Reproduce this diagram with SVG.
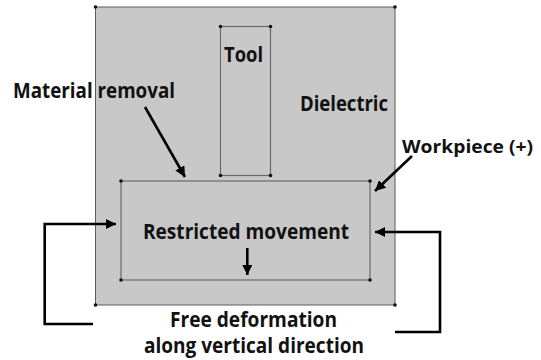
<svg xmlns="http://www.w3.org/2000/svg" width="541" height="360" viewBox="0 0 541 360">
  <defs>
    <marker id="head" viewBox="0 0 10 10" refX="10" refY="5" markerWidth="4" markerHeight="4" orient="auto" markerUnits="strokeWidth">
      <path d="M0,0 L10,5 L0,10 Z" fill="#000"/>
    </marker>
    <circle id="dot" r="1.8" fill="#111"/>
  </defs>
  <style>
    .region { fill: #c8c8c8; stroke: #5a5a5a; stroke-width: 1; }
    .frame { fill: none; stroke: #6a6a6a; stroke-width: 1.2; }
    .label { font-family: "Open Sans", "Liberation Sans", sans-serif; font-weight: 700; font-size: 21px; fill: #111; }
    .small { font-size: 18px; }
    .conn { fill: none; stroke: #000; stroke-width: 2.6; stroke-linejoin: miter; }
  </style>
  <rect width="541" height="360" fill="#fff"/>

  <!-- dielectric domain -->
  <g id="dielectric">
    <rect class="region" x="95.5" y="7" width="299.5" height="298"/>
    <use href="#dot" x="95.5" y="7"/>
    <use href="#dot" x="395" y="7"/>
    <use href="#dot" x="95.5" y="305"/>
    <use href="#dot" x="395" y="305"/>
    <text class="label" x="300" y="111" textLength="88" lengthAdjust="spacingAndGlyphs">Dielectric</text>
  </g>

  <!-- tool electrode -->
  <g id="tool">
    <rect class="frame" x="220.5" y="26.5" width="50" height="149"/>
    <use href="#dot" x="220.5" y="26.5"/>
    <use href="#dot" x="270.5" y="26.5"/>
    <use href="#dot" x="220.5" y="175.5"/>
    <use href="#dot" x="270.5" y="175.5"/>
    <text class="label" x="224" y="62" textLength="39" lengthAdjust="spacingAndGlyphs">Tool</text>
  </g>

  <!-- workpiece -->
  <g id="workpiece">
    <rect class="frame" x="121" y="181" width="249" height="99"/>
    <use href="#dot" x="121" y="181"/>
    <use href="#dot" x="370" y="181"/>
    <use href="#dot" x="121" y="280"/>
    <use href="#dot" x="370" y="280"/>
    <text class="label" x="143" y="239" textLength="206" lengthAdjust="spacingAndGlyphs">Restricted movement</text>
  </g>

  <!-- annotations -->
  <g id="material-removal">
    <text class="label" x="13" y="98" textLength="162" lengthAdjust="spacingAndGlyphs">Material removal</text>
  </g>
  <g id="workpiece-label">
    <text class="label small" x="402" y="153" textLength="131" lengthAdjust="spacingAndGlyphs">Workpiece (+)</text>
  </g>
  <g id="free-deformation">
    <text class="label" x="170" y="327" textLength="167" lengthAdjust="spacingAndGlyphs">Free deformation</text>
    <text class="label" x="144" y="353" textLength="220" lengthAdjust="spacingAndGlyphs">along vertical direction</text>
  </g>

  <!-- connectors -->
  <g id="connectors">
    <path class="conn" d="M145,107 L185,177" marker-end="url(#head)"/>
    <path class="conn" d="M412,156 L375,191" marker-end="url(#head)"/>
    <path class="conn" d="M247.3,248 L247.3,275" marker-end="url(#head)"/>
    <path class="conn" d="M93,324 L44.7,324 L44.7,224 L116,224" marker-end="url(#head)"/>
    <path class="conn" d="M395,332 L440,332 L440,232 L375,232" marker-end="url(#head)"/>
  </g>
</svg>
